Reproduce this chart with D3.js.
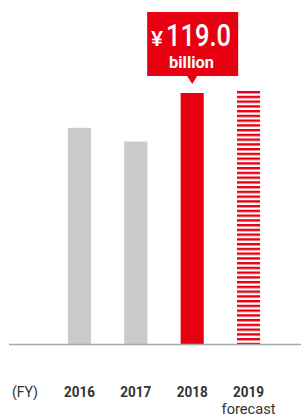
<!DOCTYPE html>
<html>
<head>
<meta charset="utf-8">
<script src="https://d3js.org/d3.v7.min.js"></script>
<style>
  body { margin: 0; background: #fff; }
  text { font-family: Roboto, "Liberation Sans", sans-serif; }
</style>
</head>
<body>
<div id="chart"></div>
<script>
// data (billion yen)
const years = ["2016", "2017", "2018", "2019"];
const subLabels = ["", "", "", "forecast"];
const values = [102.5, 96, 119.0, 120];
const kinds = ["past", "past", "actual", "forecast"];

const width = 301, height = 417;
const baseY = 344;

const svg = d3.select("#chart").append("svg")
    .attr("width", width)
    .attr("height", height);

const defs = svg.append("defs");
const pat = defs.append("pattern")
    .attr("id", "stripes")
    .attr("patternUnits", "userSpaceOnUse")
    .attr("width", 23)
    .attr("height", 4.75)
    .attr("y", 91);
pat.append("rect").attr("width", 23).attr("height", 4.75).attr("fill", "#fff");
pat.append("rect").attr("width", 23).attr("height", 2.4).attr("fill", "#e60012");

const x = d3.scaleBand()
    .domain(years)
    .range([51, 277])
    .paddingInner(0.59)
    .paddingOuter(0.3);

const y = d3.scaleLinear()
    .domain([0, 119.0])
    .range([baseY, 93]);

const fills = { past: "#c9cac9", actual: "#e60012", forecast: "url(#stripes)" };

svg.selectAll(".bar")
  .data(years)
  .join("rect")
    .attr("class", "bar")
    .attr("x", d => x(d))
    .attr("width", x.bandwidth())
    .attr("y", (d, i) => y(values[i]))
    .attr("height", (d, i) => baseY - y(values[i]))
    .attr("fill", (d, i) => fills[kinds[i]]);

// baseline
svg.append("line")
    .attr("x1", 9).attr("x2", 301)
    .attr("y1", baseY + 0.5).attr("y2", baseY + 0.5)
    .attr("stroke", "#a9a9a9")
    .attr("stroke-width", 1.5);

// axis labels
const axis = svg.append("g")
    .attr("transform", `translate(0,${baseY})`)
    .call(d3.axisBottom(x).tickSize(0).tickPadding(0));
axis.select(".domain").remove();
axis.selectAll(".tick text")
    .attr("y", 52.5)
    .attr("dy", 0)
    .attr("fill", "#333")
    .attr("textLength", 31)
    .attr("lengthAdjust", "spacingAndGlyphs")
    .style("font-size", "15px")
    .style("font-weight", "bold")
    .style("font-family", "Roboto, sans-serif");

axis.selectAll(".tick").each(function(d, i) {
  if (subLabels[i]) {
    d3.select(this).append("text")
      .attr("y", 70)
      .attr("text-anchor", "middle")
      .attr("fill", "#333")
      .attr("textLength", 54)
      .attr("lengthAdjust", "spacingAndGlyphs")
      .style("font-size", "14px")
      .text(subLabels[i]);
  }
});

svg.append("text")
    .attr("x", 12)
    .attr("y", baseY + 52.5)
    .attr("fill", "#333")
    .attr("textLength", 26)
    .attr("lengthAdjust", "spacingAndGlyphs")
    .style("font-size", "15px")
    .text("(FY)");

// callout over 2018
const cx = x("2018") + x.bandwidth() / 2;
const callout = svg.append("g");
callout.append("path")
    .attr("d", `M${cx - 45},12 H${cx + 46} V76 H${cx + 5} L${cx},84 L${cx - 5},76 H${cx - 45} Z`)
    .attr("fill", "#e60012");

const big = callout.append("text")
    .attr("x", 151)
    .attr("y", 45.5)
    .attr("fill", "#fff")
    .style("font-weight", "500");
big.append("tspan").style("font-size", "21px")
    .attr("textLength", 12).attr("lengthAdjust", "spacingAndGlyphs")
    .text("¥");
big.append("tspan").attr("x", 166).style("font-size", "31px")
    .attr("textLength", 65).attr("lengthAdjust", "spacingAndGlyphs")
    .text(values[2].toFixed(1));

callout.append("text")
    .attr("x", 169)
    .attr("y", 67.5)
    .attr("fill", "#fff")
    .attr("textLength", 45)
    .attr("lengthAdjust", "spacingAndGlyphs")
    .style("font-size", "17px")
    .style("font-weight", "bold")
    .text("billion");
</script>
</body>
</html>
